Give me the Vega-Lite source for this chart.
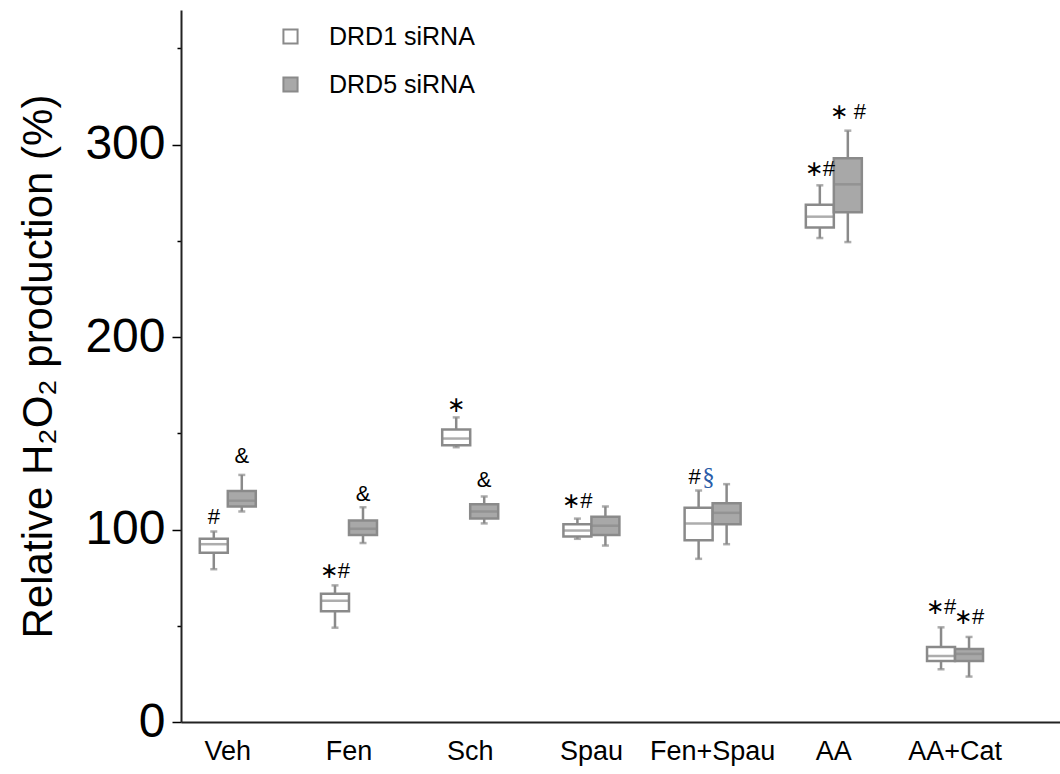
{
  "$schema": "https://vega.github.io/schema/vega-lite/v6.json",
  "autosize": "none",
  "width": 879,
  "height": 712,
  "padding": {"left": 181, "top": 10, "right": 0, "bottom": 52},
  "background": "white",
  "config": {
    "font": "Liberation Sans",
    "view": {"stroke": null},
    "axis": {"grid": false, "domainColor": "black", "tickColor": "black", "labelColor": "black", "titleColor": "black", "labelFont": "Liberation Sans", "titleFont": "Liberation Sans", "titleFontWeight": "normal"}
  },
  "datasets": {
    "boxes": [
      {"cat": "Veh", "group": "DRD1", "lower": 79.4, "q1": 88, "median": 92.4, "q3": 95.2, "upper": 99},
      {"cat": "Veh", "group": "DRD5", "lower": 109.4, "q1": 112, "median": 115, "q3": 120, "upper": 128.4},
      {"cat": "Fen", "group": "DRD1", "lower": 49, "q1": 57.5, "median": 63, "q3": 66.6, "upper": 71},
      {"cat": "Fen", "group": "DRD5", "lower": 93, "q1": 97.2, "median": 100.4, "q3": 104.7, "upper": 111.6},
      {"cat": "Sch", "group": "DRD1", "lower": 142.8, "q1": 143.8, "median": 147.3, "q3": 152, "upper": 158.3},
      {"cat": "Sch", "group": "DRD5", "lower": 103.2, "q1": 105.7, "median": 109.4, "q3": 113.2, "upper": 117.2},
      {"cat": "Spau", "group": "DRD1", "lower": 95.2, "q1": 96.4, "median": 99.5, "q3": 102.7, "upper": 105.7},
      {"cat": "Spau", "group": "DRD5", "lower": 91.7, "q1": 97.2, "median": 102, "q3": 106.6, "upper": 112},
      {"cat": "Fen+Spau", "group": "DRD1", "lower": 84.8, "q1": 94.4, "median": 103.2, "q3": 111.3, "upper": 120.3},
      {"cat": "Fen+Spau", "group": "DRD5", "lower": 92.4, "q1": 102.7, "median": 108.7, "q3": 113.7, "upper": 123.6},
      {"cat": "AA", "group": "DRD1", "lower": 251.5, "q1": 257, "median": 262.6, "q3": 268.8, "upper": 278.9},
      {"cat": "AA", "group": "DRD5", "lower": 249.4, "q1": 264.9, "median": 279.4, "q3": 293, "upper": 307.3},
      {"cat": "AA+Cat", "group": "DRD1", "lower": 27.4, "q1": 31.7, "median": 34.3, "q3": 39, "upper": 49.2},
      {"cat": "AA+Cat", "group": "DRD5", "lower": 23.6, "q1": 31.7, "median": 35.4, "q3": 38, "upper": 44.2}
    ],
    "notes": [
      {"cat": "Veh", "group": "DRD1", "y": 106.6, "label": "#"},
      {"cat": "Veh", "group": "DRD5", "y": 138, "label": "&"},
      {"cat": "Fen", "group": "DRD1", "y": 78.7, "label": "∗#"},
      {"cat": "Fen", "group": "DRD5", "y": 118.5, "label": "&"},
      {"cat": "Sch", "group": "DRD1", "y": 164.8, "label": "∗"},
      {"cat": "Sch", "group": "DRD5", "y": 125.8, "label": "&"},
      {"cat": "Spau", "group": "DRD1", "y": 114.6, "label": "∗#"},
      {"cat": "Fen+Spau", "group": "DRD1", "y": 127.2, "label": "#"},
      {"cat": "Fen+Spau", "group": "DRD1", "y": 127.2, "label": "§"},
      {"cat": "AA", "group": "DRD1", "y": 287.4, "label": "∗#"},
      {"cat": "AA", "group": "DRD5", "y": 317, "label": "∗ #"},
      {"cat": "AA+Cat", "group": "DRD1", "y": 59.6, "label": "∗#"},
      {"cat": "AA+Cat", "group": "DRD5", "y": 54.4, "label": "∗#"}
    ]
  },
  "encoding": {
    "x": {
      "field": "cat", "type": "nominal",
      "sort": ["Veh", "Fen", "Sch", "Spau", "Fen+Spau", "AA", "AA+Cat"],
      "scale": {"paddingInner": 0.228, "paddingOuter": 0.24, "align": 0},
      "axis": {"title": null, "labelAngle": 0, "labelFontSize": 27, "labelPadding": 16, "ticks": false, "domainWidth": 2, "domainColor": "#222"}
    },
    "xOffset": {"field": "group", "type": "nominal", "scale": {"domain": ["DRD1", "DRD5"], "paddingInner": 0, "paddingOuter": 0.671}}
  },
  "layer": [
    {
      "data": {"name": "boxes"},
      "mark": {"type": "rule", "color": "#8a8a8a", "strokeWidth": 2.5},
      "encoding": {
        "y": {"field": "lower", "type": "quantitative", "scale": {"domain": [0, 370], "nice": false},
          "axis": {
            "values": [0, 50, 100, 150, 200, 250, 300, 350],
            "labelExpr": "datum.value % 100 === 0 ? datum.label : ''",
            "tickSize": {"condition": {"test": "datum.value % 100 === 0", "value": 9}, "value": 4},
            "tickWidth": 1.5,
            "domainWidth": 2,
            "domainColor": "#222",
            "labelFontSize": 48,
            "labelPadding": 7,
            "title": "Relative H₂O₂ production (%)",
            "titleFontSize": 42,
            "titlePadding": 24
          }
        },
        "y2": {"field": "upper"}
      }
    },
    {
      "data": {"name": "boxes"},
      "mark": {"type": "tick", "color": "#8a8a8a", "size": 7, "thickness": 2.5},
      "encoding": {"y": {"field": "lower", "type": "quantitative"}}
    },
    {
      "data": {"name": "boxes"},
      "mark": {"type": "tick", "color": "#8a8a8a", "size": 7, "thickness": 2.5},
      "encoding": {"y": {"field": "upper", "type": "quantitative"}}
    },
    {
      "data": {"name": "boxes"},
      "mark": {"type": "bar", "stroke": "#8a8a8a", "strokeWidth": 2.5},
      "encoding": {
        "y": {"field": "q1", "type": "quantitative"},
        "y2": {"field": "q3"},
        "fill": {
          "field": "group", "type": "nominal",
          "scale": {"domain": ["DRD1", "DRD5"], "range": ["#ffffff", "#a8a8a8"]},
          "legend": {
            "title": null, "orient": "none", "legendX": 97, "legendY": 14,
            "symbolType": "square", "symbolSize": 200, "symbolStrokeColor": "#8a8a8a", "symbolStrokeWidth": 2,
            "labelFontSize": 25, "labelOffset": 26, "rowPadding": 22, "labelColor": "black",
            "labelExpr": "datum.label + ' siRNA'"
          }
        }
      }
    },
    {
      "data": {"name": "boxes"},
      "mark": {"type": "tick", "color": "#8a8a8a", "size": 28, "thickness": 2.5},
      "encoding": {"y": {"field": "median", "type": "quantitative"}}
    },
    {
      "data": {"name": "notes"},
      "transform": [{"filter": "datum.label !== '§' && datum.cat !== 'Fen+Spau'"}],
      "mark": {"type": "text", "fontSize": 22, "color": "black", "baseline": "middle"},
      "encoding": {"y": {"field": "y", "type": "quantitative"}, "text": {"field": "label"}}
    },
    {
      "data": {"name": "notes"},
      "transform": [{"filter": "datum.label === '#' && datum.cat === 'Fen+Spau'"}],
      "mark": {"type": "text", "fontSize": 22, "color": "black", "baseline": "middle", "dx": -4},
      "encoding": {"y": {"field": "y", "type": "quantitative"}, "text": {"field": "label"}}
    },
    {
      "data": {"name": "notes"},
      "transform": [{"filter": "datum.label === '§'"}],
      "mark": {"type": "text", "fontSize": 25, "font": "Liberation Serif", "color": "#2a5ca8", "baseline": "middle", "dx": 10},
      "encoding": {"y": {"field": "y", "type": "quantitative"}, "text": {"field": "label"}}
    }
  ]
}
